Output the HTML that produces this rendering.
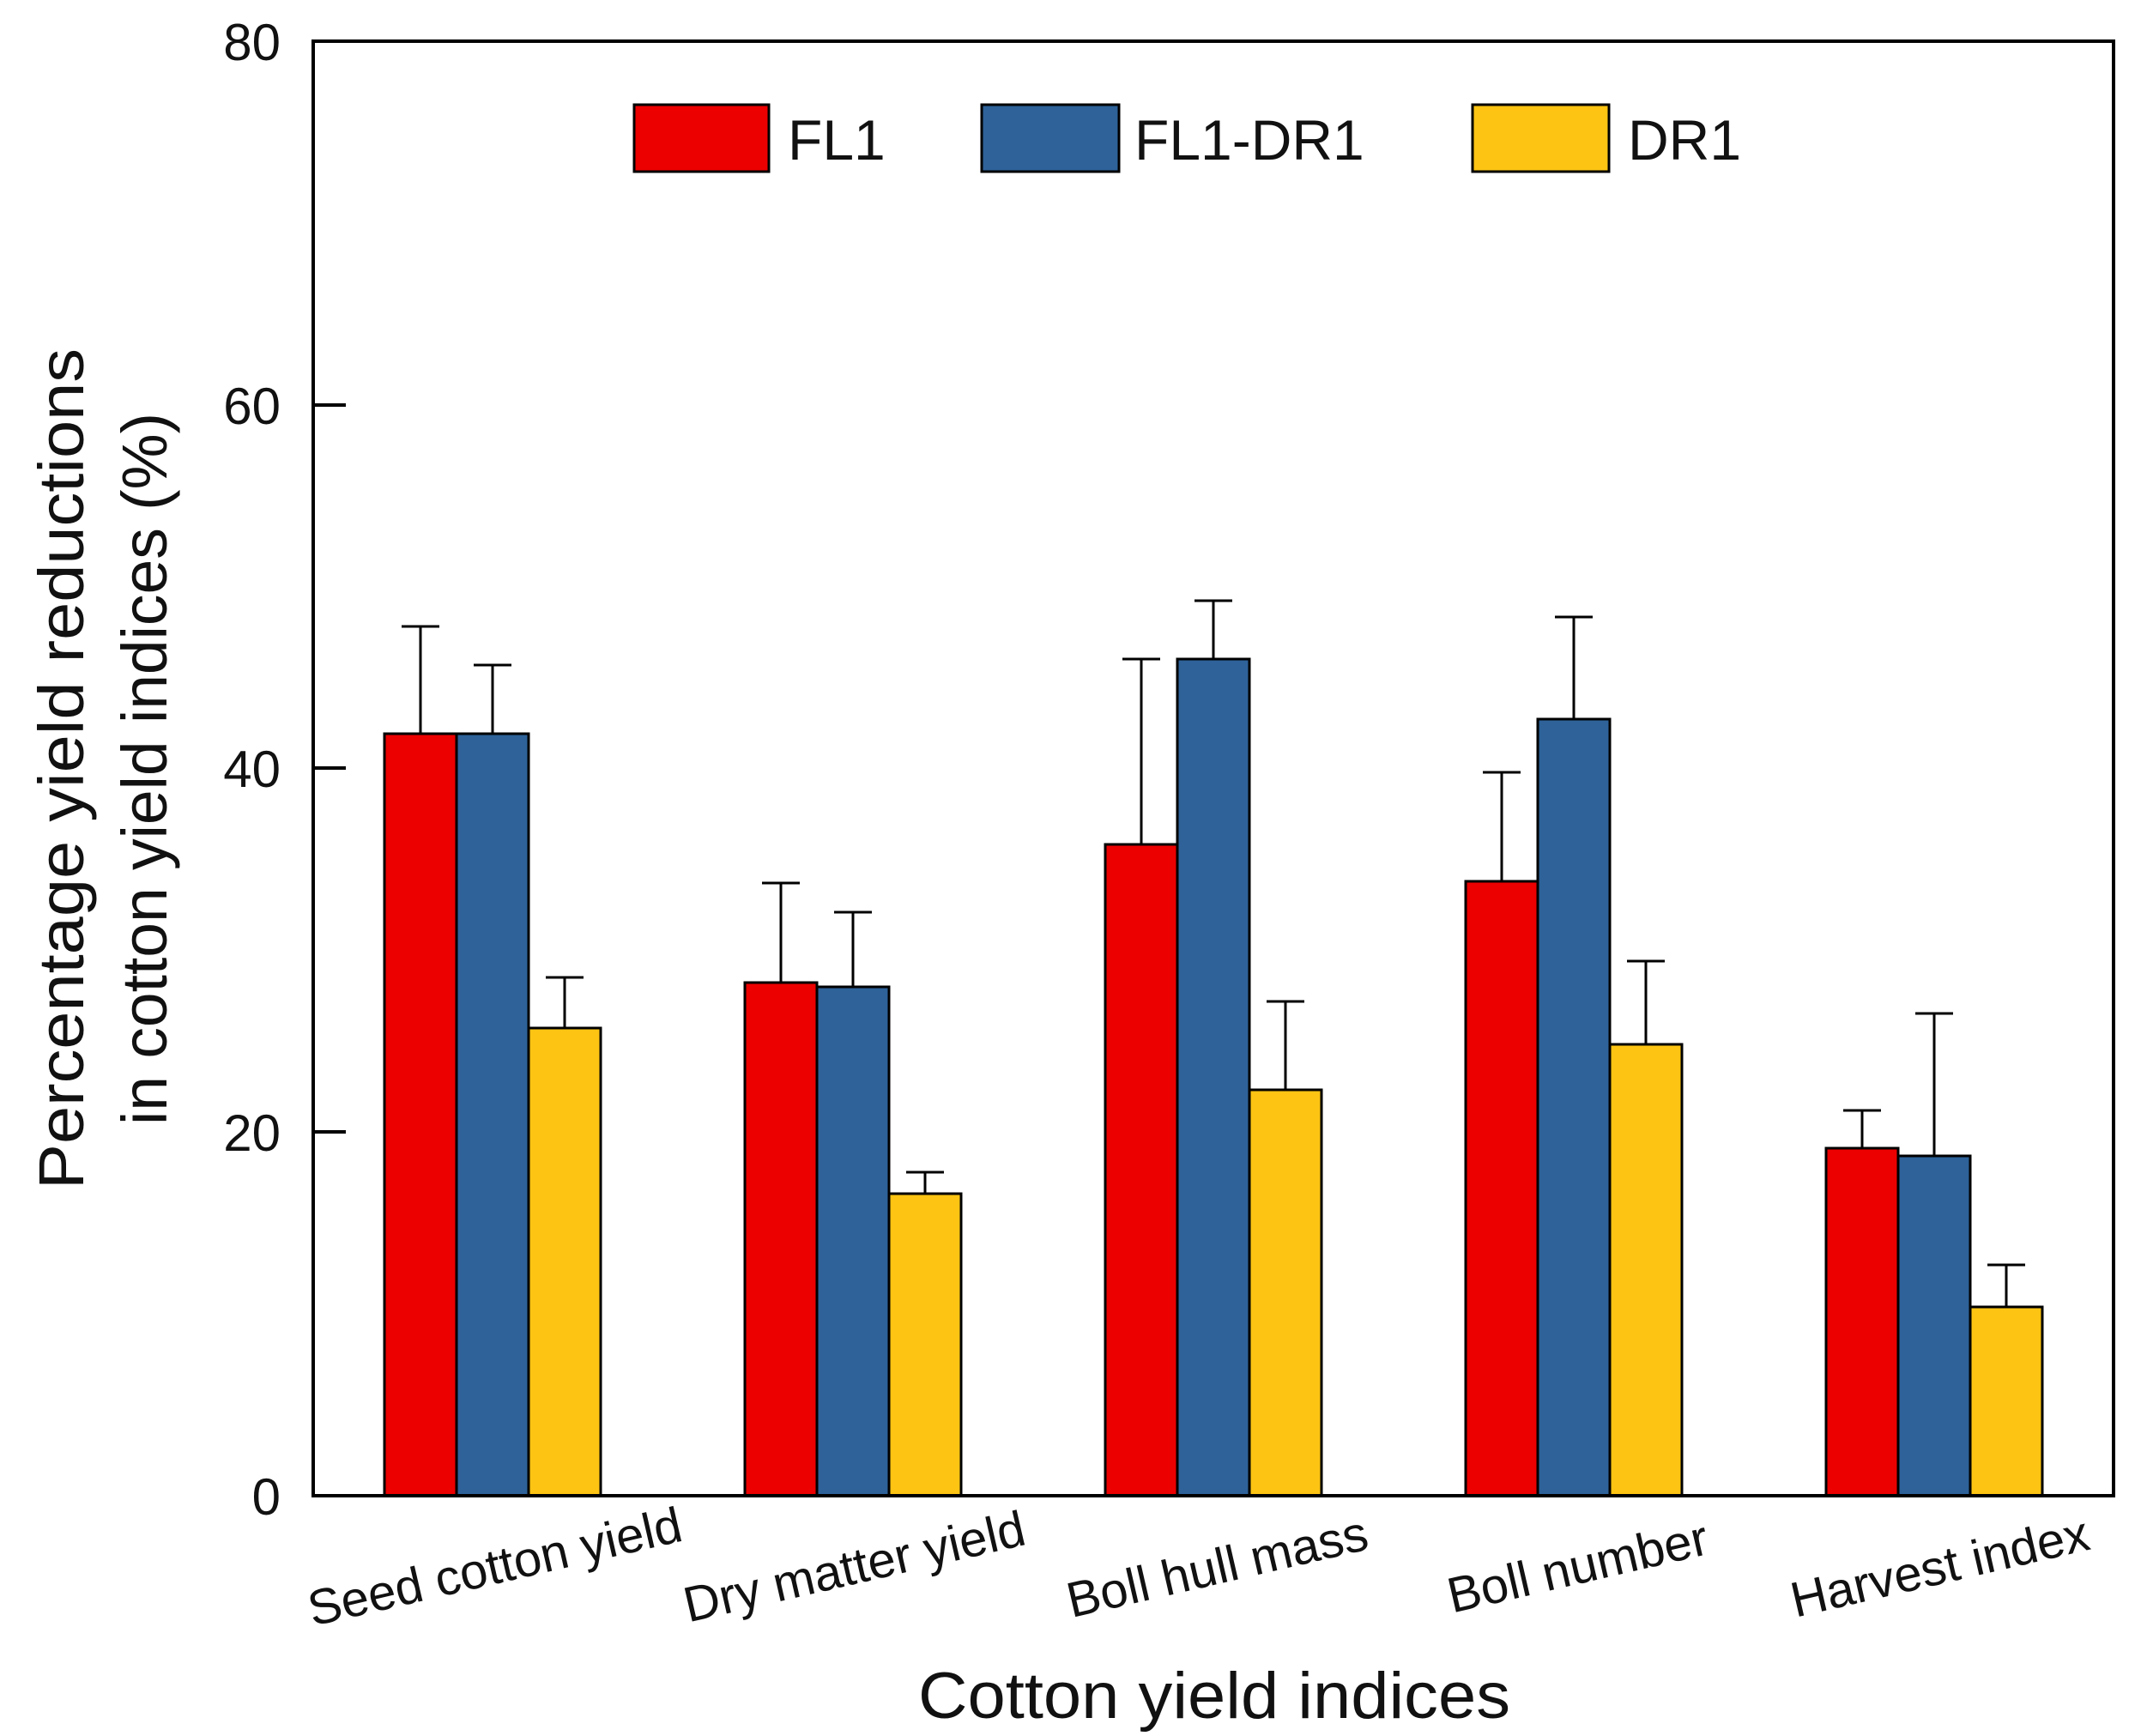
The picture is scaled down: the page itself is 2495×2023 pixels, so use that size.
<!DOCTYPE html>
<html><head><meta charset="utf-8"><style>body{margin:0;background:#fff}svg{display:block}</style></head>
<body>
<svg width="2495" height="2023" viewBox="0 0 2495 2023" xmlns="http://www.w3.org/2000/svg" font-family="Liberation Sans, Arial, sans-serif">
<rect width="2495" height="2023" fill="#fff"/>
<g stroke="#000" stroke-width="3">
<line x1="490" y1="855" x2="490" y2="730"/><line x1="468" y1="730" x2="512" y2="730"/>
<line x1="574" y1="855" x2="574" y2="775"/><line x1="552" y1="775" x2="596" y2="775"/>
<line x1="658" y1="1198" x2="658" y2="1139"/><line x1="636" y1="1139" x2="680" y2="1139"/>
<line x1="910" y1="1145" x2="910" y2="1029"/><line x1="888" y1="1029" x2="932" y2="1029"/>
<line x1="994" y1="1150" x2="994" y2="1063"/><line x1="972" y1="1063" x2="1016" y2="1063"/>
<line x1="1078" y1="1391" x2="1078" y2="1366"/><line x1="1056" y1="1366" x2="1100" y2="1366"/>
<line x1="1330" y1="984" x2="1330" y2="768"/><line x1="1308" y1="768" x2="1352" y2="768"/>
<line x1="1414" y1="768" x2="1414" y2="700"/><line x1="1392" y1="700" x2="1436" y2="700"/>
<line x1="1498" y1="1270" x2="1498" y2="1167"/><line x1="1476" y1="1167" x2="1520" y2="1167"/>
<line x1="1750" y1="1027" x2="1750" y2="900"/><line x1="1728" y1="900" x2="1772" y2="900"/>
<line x1="1834" y1="838" x2="1834" y2="719"/><line x1="1812" y1="719" x2="1856" y2="719"/>
<line x1="1918" y1="1217" x2="1918" y2="1120"/><line x1="1896" y1="1120" x2="1940" y2="1120"/>
<line x1="2170" y1="1338" x2="2170" y2="1294"/><line x1="2148" y1="1294" x2="2192" y2="1294"/>
<line x1="2254" y1="1347" x2="2254" y2="1181"/><line x1="2232" y1="1181" x2="2276" y2="1181"/>
<line x1="2338" y1="1523" x2="2338" y2="1474"/><line x1="2316" y1="1474" x2="2360" y2="1474"/>
<rect x="448" y="855" width="84" height="888" fill="#EC0000"/>
<rect x="532" y="855" width="84" height="888" fill="#2E6299"/>
<rect x="616" y="1198" width="84" height="545" fill="#FDC413"/>
<rect x="868" y="1145" width="84" height="598" fill="#EC0000"/>
<rect x="952" y="1150" width="84" height="593" fill="#2E6299"/>
<rect x="1036" y="1391" width="84" height="352" fill="#FDC413"/>
<rect x="1288" y="984" width="84" height="759" fill="#EC0000"/>
<rect x="1372" y="768" width="84" height="975" fill="#2E6299"/>
<rect x="1456" y="1270" width="84" height="473" fill="#FDC413"/>
<rect x="1708" y="1027" width="84" height="716" fill="#EC0000"/>
<rect x="1792" y="838" width="84" height="905" fill="#2E6299"/>
<rect x="1876" y="1217" width="84" height="526" fill="#FDC413"/>
<rect x="2128" y="1338" width="84" height="405" fill="#EC0000"/>
<rect x="2212" y="1347" width="84" height="396" fill="#2E6299"/>
<rect x="2296" y="1523" width="84" height="220" fill="#FDC413"/>
</g>
<rect x="365" y="48" width="2098" height="1695" fill="none" stroke="#000" stroke-width="4"/>
<g stroke="#000" stroke-width="4">
<line x1="365" y1="1319" x2="403" y2="1319"/>
<line x1="365" y1="895" x2="403" y2="895"/>
<line x1="365" y1="472" x2="403" y2="472"/>
</g>
<g font-size="60" text-anchor="end" fill="#111">
<text x="327" y="1765">0</text>
<text x="327" y="1341">20</text>
<text x="327" y="917">40</text>
<text x="327" y="494">60</text>
<text x="327" y="70">80</text>
</g>
<g font-size="74" text-anchor="middle" fill="#111">
<text transform="translate(97,896) rotate(-90)" textLength="980" lengthAdjust="spacingAndGlyphs">Percentage yield reductions</text>
<text transform="translate(194,896) rotate(-90)" textLength="830" lengthAdjust="spacingAndGlyphs">in cotton yield indices (%)</text>
<text x="1415" y="2002" font-size="76" textLength="690" lengthAdjust="spacingAndGlyphs">Cotton yield indices</text>
</g>
<g font-size="58" text-anchor="middle" fill="#111">
<text transform="translate(581,1845) rotate(-13)">Seed cotton yield</text>
<text transform="translate(1000,1845) rotate(-13)">Dry matter yield</text>
<text transform="translate(1423,1845) rotate(-13)">Boll hull mass</text>
<text transform="translate(1843,1845) rotate(-13)">Boll number</text>
<text transform="translate(2265,1845) rotate(-13)">Harvest index</text>
</g>
<g stroke="#000" stroke-width="3">
<rect x="739" y="122" width="157" height="78" fill="#EC0000"/>
<rect x="1144" y="122" width="160" height="78" fill="#2E6299"/>
<rect x="1716" y="122" width="159" height="78" fill="#FDC413"/>
</g>
<g font-size="66" fill="#111">
<text x="918" y="186">FL1</text>
<text x="1322" y="186">FL1-DR1</text>
<text x="1897" y="186">DR1</text>
</g>
</svg>
</body></html>
